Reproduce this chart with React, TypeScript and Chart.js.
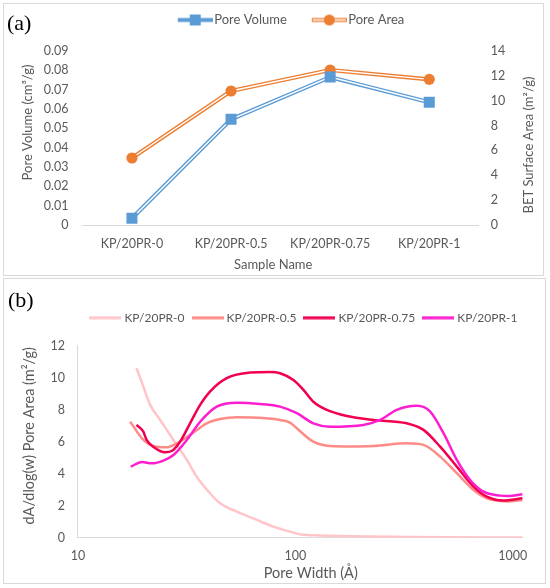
import React, { useEffect, useRef } from 'react';
import { Chart, registerables } from 'chart.js';

Chart.register(...registerables);

// ---------------- Panel (a) data ----------------
const sampleNames = ['KP/20PR-0', 'KP/20PR-0.5', 'KP/20PR-0.75', 'KP/20PR-1'];
const poreVolume = [0.0035, 0.0547, 0.0765, 0.0635];
const poreArea = [5.39, 10.78, 12.47, 11.72];

// ---------------- Panel (b) data ----------------
const seriesNames = ['KP/20PR-0', 'KP/20PR-0.5', 'KP/20PR-0.75', 'KP/20PR-1'];
const width0 = [18.6, 20.0, 21.5, 23.9, 27.5, 31.7, 35.2, 40.5, 45.1, 53.8, 66.5, 79.3, 94.6, 107, 130, 160, 220, 320, 500, 750, 1110];
const area0 = [10.6, 9.44, 8.3, 7.36, 6.11, 4.86, 3.81, 2.78, 2.15, 1.63, 1.11, 0.69, 0.38, 0.2, 0.14, 0.1, 0.07, 0.05, 0.03, 0.02, 0.02];
const width05 = [17.4, 20.0, 22.2, 25.6, 28.5, 32.8, 39.1, 45.1, 53.8, 66.5, 85.1, 94.6, 101.6, 121, 144.5, 180, 228.6, 325.8, 388.6, 463.5, 553, 660, 760, 876, 950, 1110];
const area05 = [7.25, 6.11, 5.73, 5.65, 5.9, 6.42, 7.15, 7.42, 7.53, 7.5, 7.36, 7.19, 6.84, 6.0, 5.73, 5.7, 5.73, 5.9, 5.8, 5.07, 4.03, 2.98, 2.46, 2.3, 2.27, 2.36];
const width075 = [18.6, 20.0, 20.7, 22.2, 25.2, 27.0, 29.5, 32.8, 36.5, 40.5, 48.4, 61.9, 76.6, 85.1, 98, 109, 121, 139.6, 172.6, 228.6, 325.8, 388.6, 463.5, 553, 660, 760, 900, 1110];
const area075 = [7.05, 6.63, 6.11, 5.69, 5.34, 5.42, 6.0, 7.15, 8.3, 9.13, 9.97, 10.32, 10.36, 10.28, 9.86, 9.24, 8.5, 7.99, 7.61, 7.36, 7.15, 6.74, 5.69, 4.44, 3.19, 2.56, 2.32, 2.46];
const width1 = [17.5, 19.7, 21.9, 24.7, 27.5, 31.7, 36.5, 43.5, 53.8, 68.9, 85.1, 101.6, 121, 144.5, 205.6, 245.6, 293, 362.6, 417.2, 480.4, 553, 636.8, 733.6, 876, 950, 1110];
const area1 = [4.44, 4.73, 4.65, 4.82, 5.17, 6.11, 7.25, 8.19, 8.44, 8.36, 8.19, 7.78, 7.15, 6.94, 7.05, 7.36, 7.99, 8.24, 7.88, 6.53, 4.86, 3.61, 2.88, 2.63, 2.6, 2.71];
const widthTicks = [10, 100, 1000];

// ---------------- Styles ----------------
const FONT = 'Lato, "Open Sans", sans-serif';
const TEXT = '#595959';
const AXIS = '#D9D9D9';
const BLUE = '#5B9BD5';
const ORANGE = '#ED7D31';
const seriesColors = ['#FFC5C8', '#FF8B87', '#F0004F', '#FF1ECF'];

Chart.defaults.font.family = FONT;
Chart.defaults.color = TEXT;

type TitleSpec = { text: string; x: number; y: number; rot: number; size: number };

const titlesPlugin = (specs: TitleSpec[]) => ({
  id: 'customTitles',
  afterDraw(chart: any) {
    const ctx = chart.ctx as CanvasRenderingContext2D;
    specs.forEach((s) => {
      ctx.save();
      ctx.translate(s.x, s.y);
      ctx.rotate(s.rot);
      ctx.font = `${s.size}px ${FONT}`;
      ctx.fillStyle = TEXT;
      ctx.textAlign = 'center';
      ctx.textBaseline = 'middle';
      ctx.fillText(s.text, 0, 0);
      ctx.restore();
    });
  },
});

const legendShift = (dx: number, dy: number) => ({
  id: 'legendShift',
  afterLayout(chart: any) {
    const l = chart.legend;
    if (!l) return;
    l.left += dx;
    l.right += dx;
    l.top -= dy;
    l.bottom -= dy;
  },
});

function iconA(color: string, marker: 'rect' | 'circle', double: boolean) {
  const c = document.createElement('canvas');
  c.width = 55;
  c.height = 13;
  const g = c.getContext('2d')!;
  const x0 = 20, x1 = 55, cy = 6.5;
  g.fillStyle = color;
  g.fillRect(x0, cy - 2, x1 - x0, 4);
  if (double) {
    g.fillStyle = '#fff';
    g.fillRect(x0 + 1, cy - 0.7, x1 - x0 - 2, 1.4);
    g.fillStyle = color;
  }
  const mx = (x0 + x1) / 2;
  if (marker === 'rect') g.fillRect(mx - 5.5, cy - 5.5, 11, 11);
  else {
    g.beginPath();
    g.arc(mx, cy, 5.5, 0, Math.PI * 2);
    g.fill();
  }
  return c;
}

function iconB(color: string) {
  const c = document.createElement('canvas');
  c.width = 32;
  c.height = 4;
  const g = c.getContext('2d')!;
  g.fillStyle = color;
  g.fillRect(0, 0.5, 32, 3);
  return c;
}

function toPoints(ws: number[], vs: number[]) {
  return ws.map((w, i) => ({ x: w, y: vs[i] }));
}

function configA(): any {
  const pvIcon = iconA(BLUE, 'rect', false);
  const paIcon = iconA(ORANGE, 'circle', true);
  return {
    type: 'line',
    data: {
      labels: sampleNames,
      datasets: [
        { label: 'Pore Volume', data: poreVolume, yAxisID: 'y', showLine: false, pointStyle: 'rect', pointRadius: 7.8, pointHoverRadius: 7.8, backgroundColor: BLUE, borderColor: BLUE, pointBorderWidth: 0, order: 0 },
        { label: 'Pore Area', data: poreArea, yAxisID: 'y1', showLine: false, pointStyle: 'circle', pointRadius: 5.6, pointHoverRadius: 5.6, backgroundColor: ORANGE, borderColor: ORANGE, pointBorderWidth: 0, order: 0 },
        { label: '_pvInner', data: poreVolume, yAxisID: 'y', borderColor: '#FFFFFF', borderWidth: 1.4, pointRadius: 0, tension: 0, order: 1 },
        { label: '_paInner', data: poreArea, yAxisID: 'y1', borderColor: '#FFFFFF', borderWidth: 1.4, pointRadius: 0, tension: 0, order: 1 },
        { label: '_pvOuter', data: poreVolume, yAxisID: 'y', borderColor: BLUE, borderWidth: 4.2, pointRadius: 0, tension: 0, order: 2 },
        { label: '_paOuter', data: poreArea, yAxisID: 'y1', borderColor: ORANGE, borderWidth: 4.2, pointRadius: 0, tension: 0, order: 2 },
      ],
    },
    options: {
      animation: false,
      responsive: true,
      maintainAspectRatio: false,
      layout: { padding: { left: 0, right: 0, top: 14, bottom: 0 } },
      plugins: {
        tooltip: { enabled: false },
        legend: {
          position: 'top',
          labels: {
            usePointStyle: true,
            pointStyleWidth: 45,
            padding: 10,
            color: TEXT,
            font: { size: 13, family: FONT },
            generateLabels: () => [
              { text: 'Pore Volume', pointStyle: pvIcon, fillStyle: BLUE, strokeStyle: BLUE, lineWidth: 0, hidden: false, datasetIndex: 0, fontColor: TEXT },
              { text: 'Pore Area', pointStyle: paIcon, fillStyle: ORANGE, strokeStyle: ORANGE, lineWidth: 0, hidden: false, datasetIndex: 1, fontColor: TEXT },
            ],
          },
        },
      },
      scales: {
        x: {
          type: 'category',
          offset: true,
          grid: { display: false, drawTicks: false },
          border: { display: true, color: AXIS, width: 1 },
          ticks: { color: TEXT, font: { size: 12.5 }, padding: 11, maxRotation: 0, autoSkip: false },
          afterFit: (s: any) => { s.height = 50; },
        },
        y: {
          position: 'left',
          min: 0,
          max: 0.09,
          grid: { display: false, drawTicks: false },
          border: { display: false },
          ticks: { stepSize: 0.01, color: TEXT, font: { size: 12.5 }, padding: 14, callback: (v: any) => (Number(v) === 0 ? '0' : Number(v).toFixed(2)) },
          afterFit: (s: any) => { s.width = 78.4; },
        },
        y1: {
          position: 'right',
          min: 0,
          max: 14,
          grid: { display: false, drawTicks: false },
          border: { display: false },
          ticks: { stepSize: 2, color: TEXT, font: { size: 12.5 }, padding: 12 },
          afterFit: (s: any) => { s.width = 64.2; },
        },
      },
    },
    plugins: [
      titlesPlugin([
        { text: 'Pore Volume (cm³/g)', x: 23.4, y: 118.5, rot: -Math.PI / 2, size: 13 },
        { text: 'BET Surface Area (m²/g)', x: 524.8, y: 141, rot: -Math.PI / 2, size: 13 },
        { text: 'Sample Name', x: 269.2, y: 260.5, rot: 0, size: 13 },
      ]),
      legendShift(10, 14.5),
    ],
  };
}

function configB(): any {
  const widths = [width0, width05, width075, width1];
  const areas = [area0, area05, area075, area1];
  const icons = seriesColors.map((c) => iconB(c));
  return {
    type: 'line',
    data: {
      datasets: seriesNames.map((name, i) => ({
        label: name,
        data: toPoints(widths[i], areas[i]),
        borderColor: seriesColors[i],
        backgroundColor: seriesColors[i],
        borderWidth: 2.5,
        pointRadius: 0,
        pointHoverRadius: 0,
        tension: 0.4,
        cubicInterpolationMode: 'monotone',
        fill: false,
        order: -i,
      })),
    },
    options: {
      animation: false,
      responsive: true,
      maintainAspectRatio: false,
      layout: { padding: { left: 0, right: 22.4, top: 34.7, bottom: 0 } },
      plugins: {
        tooltip: { enabled: false },
        legend: {
          position: 'top',
          labels: {
            usePointStyle: true,
            pointStyleWidth: 26,
            padding: 10,
            color: TEXT,
            font: { size: 12, family: FONT },
            generateLabels: () =>
              seriesNames.map((name, i) => ({
                text: name,
                pointStyle: icons[i],
                fillStyle: seriesColors[i],
                strokeStyle: seriesColors[i],
                lineWidth: 0,
                hidden: false,
                datasetIndex: i,
                fontColor: TEXT,
              })),
          },
        },
      },
      scales: {
        x: {
          type: 'logarithmic',
          min: 10,
          max: 1110,
          grid: { display: false, drawTicks: false },
          border: { display: true, color: AXIS, width: 1 },
          afterBuildTicks: (s: any) => { s.ticks = widthTicks.map((v) => ({ value: v })); },
          ticks: { color: TEXT, font: { size: 12.5 }, padding: 11, maxRotation: 0, autoSkip: false, callback: (v: any) => String(v) },
          afterFit: (s: any) => { s.height = 45.3; },
        },
        y: {
          position: 'left',
          min: 0,
          max: 12,
          grid: { display: false, drawTicks: false },
          border: { display: true, color: AXIS, width: 1 },
          ticks: { stepSize: 2, color: TEXT, font: { size: 12.5 }, padding: 13 },
          afterFit: (s: any) => { s.width = 73.9; },
        },
      },
    },
    plugins: [
      titlesPlugin([
        { text: 'dA/dlog(w) Pore Area (m²/g)', x: 25.8, y: 156.8, rot: -Math.PI / 2, size: 14.5 },
        { text: 'Pore Width (Å)', x: 306.8, y: 294.5, rot: 0, size: 14.5 },
      ]),
      legendShift(41.6, 12),
    ],
  };
}

const panelLabel: React.CSSProperties = {
  position: 'absolute',
  fontFamily: '"Liberation Serif", "Times New Roman", serif',
  fontSize: 22,
  lineHeight: '22px',
  color: '#000',
  whiteSpace: 'nowrap',
};

export default function App() {
  const refA = useRef<HTMLCanvasElement>(null);
  const refB = useRef<HTMLCanvasElement>(null);

  useEffect(() => {
    document.body.style.margin = '0';
    const a = new Chart(refA.current as HTMLCanvasElement, configA());
    const b = new Chart(refB.current as HTMLCanvasElement, configB());
    return () => {
      a.destroy();
      b.destroy();
    };
  }, []);

  return (
    <div style={{ position: 'absolute', left: 0, top: 0, width: 550, height: 588, background: '#fff', overflow: 'hidden' }}>
      <div style={{ position: 'absolute', left: 3, top: 3, width: 541, height: 273, border: `1px solid ${AXIS}`, boxSizing: 'border-box' }} />
      <div style={{ position: 'absolute', left: 3, top: 278, width: 543, height: 306, border: `1px solid ${AXIS}`, boxSizing: 'border-box' }} />
      <div style={{ position: 'absolute', left: 4, top: 4, width: 539, height: 271 }}>
        <canvas ref={refA} />
      </div>
      <div style={{ position: 'absolute', left: 4, top: 279, width: 541, height: 304 }}>
        <canvas ref={refB} />
      </div>
      <div style={{ ...panelLabel, left: 7, top: 12 }}>(a)</div>
      <div style={{ ...panelLabel, left: 8, top: 289 }}>(b)</div>
    </div>
  );
}
